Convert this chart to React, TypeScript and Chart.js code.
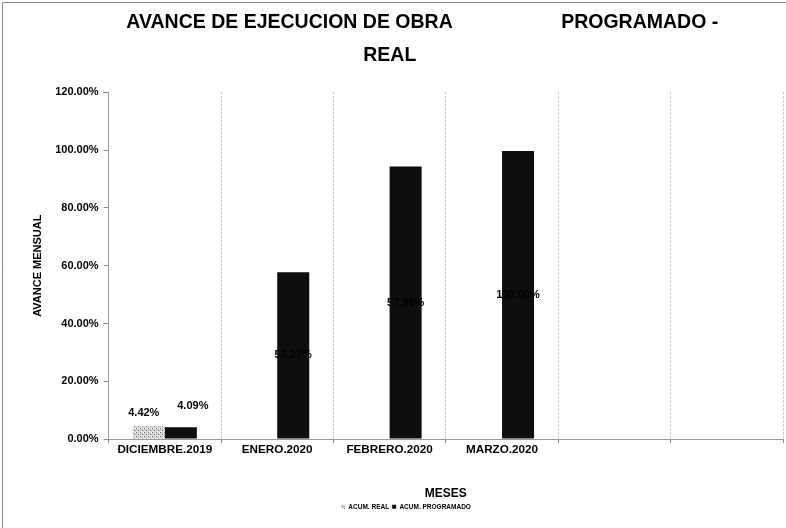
import React, { useEffect, useRef } from "react";
import { Chart, registerables } from "chart.js";

Chart.register(...registerables);

const categories = ["DICIEMBRE.2019", "ENERO.2020", "FEBRERO.2020", "MARZO.2020", "", ""];
const acumReal = [4.42, null, null, null, null, null];
const acumProgramado = [4.09, 57.7, 94.3, 99.7, null, null];
const realLabels = ["4.42%", "", "", "", "", ""];
const progLabels = ["4.09%", "57.27%", "57.96%", "100.00%", "", ""];
const yTicks = [0, 20, 40, 60, 80, 100, 120];

const FONT = "'Liberation Sans', Arial, sans-serif";

function makePattern(): CanvasPattern | string {
  const c = document.createElement("canvas");
  c.width = 4;
  c.height = 4;
  const g = c.getContext("2d");
  if (!g) return "#c8c8c8";
  g.fillStyle = "#d4d4d4";
  g.fillRect(0, 0, 4, 4);
  g.fillStyle = "#6a6a6a";
  g.fillRect(0, 0, 1, 1);
  g.fillRect(2, 2, 1, 1);
  g.fillStyle = "#ffffff";
  g.fillRect(3, 0, 1, 1);
  g.fillRect(1, 3, 1, 1);
  const p = g.createPattern(c, "repeat");
  return p || "#c8c8c8";
}

const labelPlugin = {
  id: "barLabels",
  afterDatasetsDraw(chart: any) {
    const ctx = chart.ctx;
    ctx.save();
    ctx.font = `bold 11px ${FONT}`;
    ctx.fillStyle = "#000";
    ctx.textAlign = "center";
    ctx.textBaseline = "middle";
    const m0 = chart.getDatasetMeta(0);
    m0.data.forEach((bar: any, i: number) => {
      const t = realLabels[i];
      if (!t || acumReal[i] == null) return;
      ctx.fillText(t, bar.x - 5, bar.y - 13);
    });
    const m1 = chart.getDatasetMeta(1);
    m1.data.forEach((bar: any, i: number) => {
      const t = progLabels[i];
      const v = acumProgramado[i];
      if (!t || v == null) return;
      if (v < 10) {
        ctx.fillText(t, bar.x + 12, bar.y - 21);
      } else {
        ctx.fillText(t, bar.x, (bar.y + bar.base) / 2);
      }
    });
    ctx.restore();
  },
};

const borderPlugin = {
  id: "outerBorder",
  beforeDraw(chart: any) {
    const ctx = chart.ctx;
    ctx.save();
    ctx.fillStyle = "#fff";
    ctx.fillRect(0, 0, chart.width, chart.height);
    ctx.strokeStyle = "#8a8a8a";
    ctx.lineWidth = 1;
    ctx.beginPath();
    ctx.moveTo(2.5, chart.height);
    ctx.lineTo(2.5, 2.5);
    ctx.lineTo(chart.width, 2.5);
    ctx.stroke();
    ctx.restore();
  },
};

export default function App() {
  const ref = useRef<HTMLCanvasElement | null>(null);

  useEffect(() => {
    document.body.style.margin = "0";
    const canvas = ref.current;
    if (!canvas) return;
    const chart = new Chart(canvas, {
      type: "bar",
      data: {
        labels: categories,
        datasets: [
          {
            label: "ACUM. REAL",
            data: acumReal,
            backgroundColor: makePattern(),
            borderWidth: 0,
            categoryPercentage: 0.57,
            barPercentage: 1,
          },
          {
            label: "ACUM. PROGRAMADO",
            data: acumProgramado,
            backgroundColor: "#0e0e0e",
            borderWidth: 0,
            categoryPercentage: 0.57,
            barPercentage: 1,
          },
        ] as any,
      },
      options: {
        responsive: false,
        animation: false,
        maintainAspectRatio: false,
        layout: { padding: { left: 29, right: 3, top: 2, bottom: 8 } },
        plugins: {
          title: {
            display: true,
            text: [
              "      AVANCE DE EJECUCION DE OBRA                    PROGRAMADO -",
              "REAL      ",
            ],
            color: "#000",
            font: { family: FONT, size: 19.5, weight: "bold", lineHeight: 1.7 },
            padding: { top: 4, bottom: 20 },
          },
          legend: {
            position: "bottom",
            labels: {
              color: "#000",
              font: { family: FONT, size: 6.5, weight: "bold" },
              boxWidth: 4,
              boxHeight: 4,
              padding: 3,
            },
          },
          tooltip: { enabled: false },
        },
        scales: {
          x: {
            grid: {
              display: true,
              offset: true,
              color: "#b8b8b8",
              drawTicks: true,
              tickLength: 4,
              tickColor: "#888",
            },
            border: { display: true, color: "#9a9a9a", dash: [2, 2] },
            ticks: {
              color: "#000",
              font: { family: FONT, size: 11.7, weight: "bold" },
              padding: 0,
              maxRotation: 0,
              autoSkip: false,
            },
            title: {
              display: true,
              text: "MESES",
              color: "#000",
              font: { family: FONT, size: 12, weight: "bold" },
              padding: { top: 29, bottom: 0 },
            },
          },
          y: {
            min: 0,
            max: 120,
            afterBuildTicks(scale: any) {
              scale.ticks = yTicks.map((v) => ({ value: v }));
            },
            grid: {
              display: true,
              drawOnChartArea: false,
              drawTicks: true,
              tickLength: 5,
              tickColor: "#888",
            },
            border: { display: true, color: "#9a9a9a", dash: [2, 2] },
            ticks: {
              color: "#000",
              font: { family: FONT, size: 11, weight: "bold" },
              padding: 5,
              callback: (v: any) => Number(v).toFixed(2) + "%",
            },
            title: {
              display: true,
              text: "AVANCE MENSUAL",
              color: "#000",
              font: { family: FONT, size: 11, weight: "bold" },
              padding: { top: 2, bottom: 6 },
            },
          },
        },
      },
      plugins: [labelPlugin, borderPlugin],
    });
    return () => chart.destroy();
  }, []);

  return (
    <div style={{ position: "absolute", left: 0, top: 0, width: 786, height: 528 }}>
      <canvas ref={ref} width={786} height={528} style={{ display: "block" }} />
    </div>
  );
}
